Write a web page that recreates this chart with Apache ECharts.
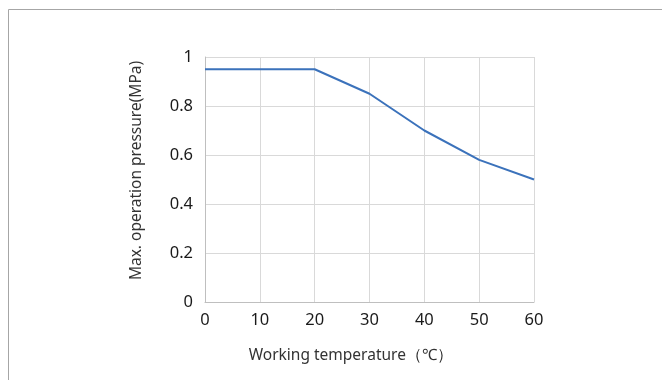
<!DOCTYPE html>
<html>
<head>
<meta charset="utf-8">
<script src="https://cdn.jsdelivr.net/npm/echarts@6/dist/echarts.min.js"></script>
<style>
html,body{margin:0;padding:0;background:#fff;}
#c{width:662px;height:380px;}
</style>
</head>
<body>
<div id="c"></div>
<script>
const temperatures = [0, 10, 20, 30, 40, 50, 60];
const pressures = [0.95, 0.95, 0.95, 0.85, 0.70, 0.58, 0.50];
const xAxisTitle = 'Working temperature（℃）';
const yAxisTitle = 'Max. operation pressure(MPa)';

const chart = echarts.init(document.getElementById('c'));
chart.setOption({
  animation: false,
  backgroundColor: '#ffffff',
  graphic: [
    { type: 'line', shape: { x1: 8.5, y1: 9.5, x2: 662, y2: 9.5 }, style: { stroke: '#a6a6a6', lineWidth: 1 } },
    { type: 'line', shape: { x1: 8.5, y1: 9.5, x2: 8.5, y2: 380 }, style: { stroke: '#a6a6a6', lineWidth: 1 } }
  ],
  grid: { left: 205, right: 128, top: 57, bottom: 78 },
  xAxis: {
    type: 'value', min: 0, max: 60, interval: 10,
    name: xAxisTitle, nameLocation: 'middle', nameGap: 46,
    nameTextStyle: { fontFamily: 'Noto Sans', fontSize: 15.5, color: '#333333', padding: [0, 37, 0, 0] },
    axisLine: { show: true, lineStyle: { color: '#bfbfbf', width: 1 } },
    axisTick: { show: false },
    axisLabel: { fontFamily: 'Noto Sans', fontSize: 16.5, color: '#1a1a1a', margin: 10 },
    splitLine: { show: true, lineStyle: { color: '#d9d9d9', width: 1 } }
  },
  yAxis: {
    type: 'value', min: 0, max: 1, interval: 0.2,
    name: yAxisTitle, nameLocation: 'middle', nameGap: 60,
    nameTextStyle: { fontFamily: 'Noto Sans', fontSize: 15.5, color: '#333333', padding: [0, 0, 0, 18] },
    axisLine: { show: true, lineStyle: { color: '#bfbfbf', width: 1 } },
    axisTick: { show: false },
    axisLabel: { fontFamily: 'Noto Sans', fontSize: 16.5, color: '#1a1a1a', margin: 12 },
    splitLine: { show: true, lineStyle: { color: '#d9d9d9', width: 1 } }
  },
  series: [{
    type: 'line',
    data: temperatures.map((t, i) => [t, pressures[i]]),
    showSymbol: false,
    symbol: 'none',
    lineStyle: { color: '#3b72bb', width: 2 },
    itemStyle: { color: '#3b72bb' }
  }]
});
</script>
</body>
</html>
